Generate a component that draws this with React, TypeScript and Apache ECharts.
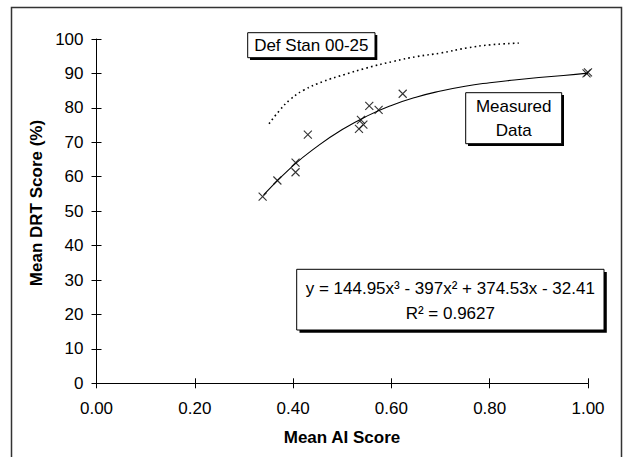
import React, { useEffect, useRef } from "react";
import * as echarts from "echarts";

// Measured data (Mean AI Score, Mean DRT Score %)
const measuredX = [0.338, 0.368, 0.405, 0.405, 0.43, 0.534, 0.538, 0.543, 0.555, 0.574, 0.623, 0.997, 1.0, 1.001];
const measuredY = [54.2, 58.9, 64.1, 61.3, 72.2, 73.9, 76.5, 75.1, 80.6, 79.4, 84.1, 90.0, 90.3, 89.8];

// Polynomial trend line as drawn
const trendX = [0.34, 0.4, 0.45, 0.5, 0.55, 0.6, 0.65, 0.7, 0.75, 0.8, 0.85, 0.9, 0.95, 1.0];
const trendY = [54.7, 63.2, 68.9, 73.7, 77.6, 80.7, 83.1, 84.9, 86.3, 87.3, 88.1, 88.8, 89.4, 90.1];

// Def Stan 00-25 dotted reference curve
const defStanX = [0.351, 0.374, 0.394, 0.421, 0.462, 0.503, 0.55, 0.604, 0.652, 0.699, 0.754, 0.801, 0.859];
const defStanY = [75.4, 79.5, 82.4, 85.1, 87.7, 89.6, 91.6, 93.5, 94.9, 95.9, 97.4, 98.3, 98.8];

const xTickStep = 0.2;
const yTickStep = 10;

const FONT = '"Liberation Sans", Arial, sans-serif';

export default function App() {
  const ref = useRef<HTMLDivElement>(null);

  useEffect(() => {
    document.body.style.margin = "0";
    if (!ref.current) return;
    const chart = echarts.init(ref.current, null, { renderer: "svg" });

    const xSym = "path://M0,0L10,10M10,0L0,10";

    const axisBase = {
      splitLine: { show: false },
    };

    const option: any = {
      animation: false,
      backgroundColor: "#ffffff",
      textStyle: { fontFamily: FONT },
      grid: { left: 96.5, right: 36, top: 39, bottom: 73.7 },
      xAxis: [
        {
          ...axisBase,
          type: "value",
          min: 0,
          max: 1,
          interval: xTickStep,
          position: "bottom",
          axisLine: { show: true, lineStyle: { color: "#000", width: 1 } },
          axisTick: { show: true, length: 5, lineStyle: { color: "#000", width: 1 } },
          axisLabel: {
            formatter: (v: number) => v.toFixed(2),
            fontSize: 17,
            color: "#000",
            margin: 17,
            fontFamily: FONT,
          },
        },
        {
          ...axisBase,
          type: "value",
          min: 0,
          max: 1,
          interval: xTickStep,
          position: "bottom",
          axisLine: { show: false },
          axisTick: { show: true, inside: true, length: 5, lineStyle: { color: "#000", width: 1 } },
          axisLabel: { show: false },
        },
      ],
      yAxis: [
        {
          ...axisBase,
          type: "value",
          min: 0,
          max: 100,
          interval: yTickStep,
          position: "left",
          axisLine: { show: true, lineStyle: { color: "#000", width: 1 } },
          axisTick: { show: true, length: 5, lineStyle: { color: "#000", width: 1 } },
          axisLabel: { fontSize: 17, color: "#000", margin: 13, fontFamily: FONT },
        },
        {
          ...axisBase,
          type: "value",
          min: 0,
          max: 100,
          interval: yTickStep,
          position: "left",
          axisLine: { show: false },
          axisTick: { show: true, inside: true, length: 5, lineStyle: { color: "#000", width: 1 } },
          axisLabel: { show: false },
        },
      ],
      series: [
        {
          type: "line",
          name: "Def Stan 00-25",
          data: defStanX.map((x, i) => [x, defStanY[i]]),
          smooth: true,
          showSymbol: false,
          lineStyle: { color: "#000", width: 1.6, type: [1.6, 3.2] },
          z: 2,
        },
        {
          type: "line",
          name: "Trend",
          data: trendX.map((x, i) => [x, trendY[i]]),
          smooth: true,
          showSymbol: false,
          lineStyle: { color: "#000", width: 1.1 },
          z: 3,
        },
        {
          type: "scatter",
          name: "Measured Data",
          data: measuredX.map((x, i) => [x, measuredY[i]]),
          symbol: xSym,
          symbolSize: 8,
          itemStyle: { color: "rgba(0,0,0,0)", borderColor: "#000", borderWidth: 1.1 },
          z: 4,
        },
      ],
      graphic: [
        {
          type: "rect",
          shape: { x: 11.5, y: 7.5, width: 610, height: 480 },
          style: { fill: "none", stroke: "#333", lineWidth: 1.5 },
          z: 1,
        },
        {
          type: "text",
          x: 36,
          y: 203,
          rotation: Math.PI / 2,
          style: {
            text: "Mean DRT Score (%)",
            fontSize: 17,
            fontWeight: "bold",
            fontFamily: FONT,
            fill: "#000",
            align: "center",
            verticalAlign: "middle",
          },
        },
        {
          type: "text",
          x: 342,
          y: 437,
          style: {
            text: "Mean AI Score",
            fontSize: 17,
            fontWeight: "bold",
            fontFamily: FONT,
            fill: "#000",
            align: "center",
            verticalAlign: "middle",
          },
        },
        // Def Stan label box
        {
          type: "rect",
          shape: { x: 250, y: 35, width: 127.3, height: 25 },
          style: { fill: "#000" },
          z: 10,
        },
        {
          type: "rect",
          shape: { x: 247.7, y: 32.7, width: 127.3, height: 25 },
          style: { fill: "#fff", stroke: "#000", lineWidth: 1 },
          z: 11,
        },
        {
          type: "text",
          x: 311.3,
          y: 45.5,
          style: {
            text: "Def Stan 00-25",
            fontSize: 17,
            fontFamily: FONT,
            fill: "#000",
            align: "center",
            verticalAlign: "middle",
          },
          z: 12,
        },
        // Measured Data label box
        {
          type: "rect",
          shape: { x: 468, y: 95, width: 96, height: 51 },
          style: { fill: "#000" },
          z: 10,
        },
        {
          type: "rect",
          shape: { x: 465.7, y: 92.7, width: 96, height: 51 },
          style: { fill: "#fff", stroke: "#000", lineWidth: 1 },
          z: 11,
        },
        {
          type: "text",
          x: 513.7,
          y: 106,
          style: {
            text: "Measured",
            fontSize: 17,
            fontFamily: FONT,
            fill: "#000",
            align: "center",
            verticalAlign: "middle",
          },
          z: 12,
        },
        {
          type: "text",
          x: 513.7,
          y: 130,
          style: {
            text: "Data",
            fontSize: 17,
            fontFamily: FONT,
            fill: "#000",
            align: "center",
            verticalAlign: "middle",
          },
          z: 12,
        },
        // Equation box
        {
          type: "rect",
          shape: { x: 299.5, y: 272, width: 307.3, height: 60.7 },
          style: { fill: "#000" },
          z: 10,
        },
        {
          type: "rect",
          shape: { x: 296.7, y: 269.3, width: 307.3, height: 60.7 },
          style: { fill: "#fff", stroke: "#000", lineWidth: 1 },
          z: 11,
        },
        {
          type: "text",
          x: 450.3,
          y: 288.5,
          style: {
            text: "y = 144.95x³ - 397x² + 374.53x - 32.41",
            fontSize: 17,
            fontFamily: FONT,
            fill: "#000",
            align: "center",
            verticalAlign: "middle",
          },
          z: 12,
        },
        {
          type: "text",
          x: 450.3,
          y: 313.5,
          style: {
            text: "R² = 0.9627",
            fontSize: 17,
            fontFamily: FONT,
            fill: "#000",
            align: "center",
            verticalAlign: "middle",
          },
          z: 12,
        },
      ],
    };

    chart.setOption(option);
    return () => chart.dispose();
  }, []);

  return <div ref={ref} style={{ width: 624, height: 457 }} />;
}
